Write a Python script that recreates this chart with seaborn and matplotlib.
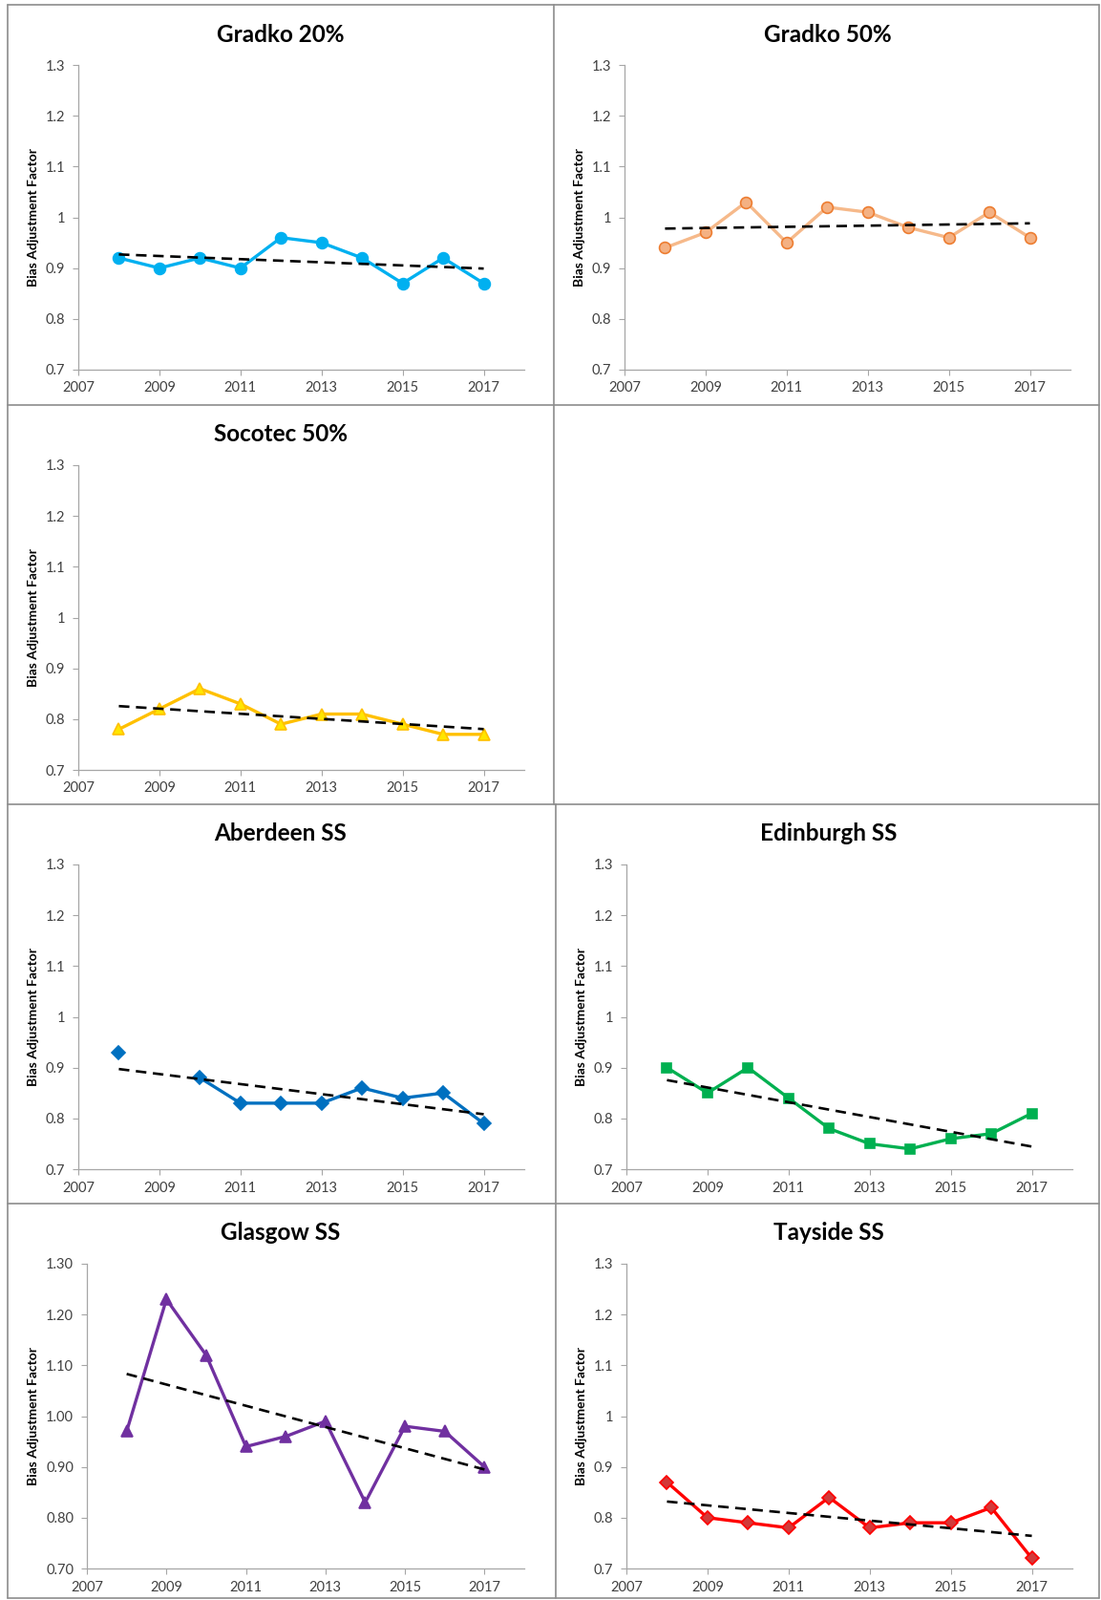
import numpy as np
import pandas as pd
import matplotlib
matplotlib.use("Agg")
import matplotlib.pyplot as plt
import seaborn as sns
from matplotlib.lines import Line2D
from matplotlib.ticker import FuncFormatter

# ---------------- data ----------------
years = [2008, 2009, 2010, 2011, 2012, 2013, 2014, 2015, 2016, 2017]
gradko20 = [0.92, 0.90, 0.92, 0.90, 0.96, 0.95, 0.92, 0.87, 0.92, 0.87]
gradko50 = [0.94, 0.97, 1.03, 0.95, 1.02, 1.01, 0.98, 0.96, 1.01, 0.96]
socotec50 = [0.78, 0.82, 0.86, 0.83, 0.79, 0.81, 0.81, 0.79, 0.77, 0.77]
aberdeen = [0.93, np.nan, 0.88, 0.83, 0.83, 0.83, 0.86, 0.84, 0.85, 0.79]
edinburgh = [0.90, 0.85, 0.90, 0.84, 0.78, 0.75, 0.74, 0.76, 0.77, 0.81]
glasgow = [0.97, 1.23, 1.12, 0.94, 0.96, 0.99, 0.83, 0.98, 0.97, 0.90]
tayside = [0.87, 0.80, 0.79, 0.78, 0.84, 0.78, 0.79, 0.79, 0.82, 0.72]

titles = ["Gradko 20%", "Gradko 50%", "Socotec 50%", "Aberdeen SS",
          "Edinburgh SS", "Glasgow SS", "Tayside SS"]
x_ticks = [2007, 2009, 2011, 2013, 2015, 2017]
y_ticks = [0.7, 0.8, 0.9, 1.0, 1.1, 1.2, 1.3]
y_label = "Bias Adjustment Factor"

# ---------------- style ----------------
sns.set_theme(style="white")
plt.rcParams["font.family"] = ["Lato", "DejaVu Sans"]

W, H = 1153, 1675
fig = plt.figure(figsize=(W / 100, H / 100), dpi=100)
fig.patch.set_facecolor("white")

def fbox(x, y, w, h):
    return [x / W, 1 - (y + h) / H, w / W, h / H]

row_y = [5, 424, 842, 1260]
col_x_top = [8, 580]
col_x_bot = [8, 582]

# style per series: (values, row, col, line color, marker, face, edge, size)
specs = [
    (gradko20, 0, 0, "#00B0F0", "o", "#00B0F0", "#00B0F0", 8.5),
    (gradko50, 0, 1, "#F6B98A", "o", "#F4B183", "#ED7D31", 8.5),
    (socotec50, 1, 0, "#FFC000", "^", "#FFE600", "#FFC000", 8.5),
    (aberdeen, 2, 0, "#0070C0", "D", "#0070C0", "#0070C0", 7.2),
    (edinburgh, 2, 1, "#00B050", "s", "#00B050", "#00B050", 7.0),
    (glasgow, 3, 0, "#7030A0", "^", "#7030A0", "#7030A0", 8.5),
    (tayside, 3, 1, "#FF0000", "D", "#D23A3A", "#FF0000", 7.2),
]

for i, (vals, r, c, lc, mk, mf, me, ms) in enumerate(specs):
    px0 = (col_x_top if r < 2 else col_x_bot)[c]
    py0 = row_y[r]
    pw = (580 - 8) if c == 0 else (1153 - px0)
    if titles[i] == "Glasgow SS":
        ax_left, ax_w = px0 + 83, 458
    else:
        ax_left, ax_w = px0 + 74, 467
    ax = fig.add_axes(fbox(ax_left, py0 + 63, ax_w, 319))

    df = pd.DataFrame({"year": years, "value": vals})
    # split into contiguous segments (gaps where data are missing)
    seg = df["value"].isna().cumsum()
    d = df.assign(seg=seg).dropna()
    for _, sub in d.groupby("seg"):
        sns.lineplot(data=sub, x="year", y="value", ax=ax, color=lc, lw=2.4,
                     marker=mk, markersize=ms, markerfacecolor=mf,
                     markeredgecolor=me, markeredgewidth=1.2, zorder=3)
    sns.regplot(data=df.dropna(), x="year", y="value", ax=ax, scatter=False,
                ci=None, truncate=True,
                line_kws=dict(color="black", lw=1.9, dashes=(4.2, 2.6), zorder=4))

    ax.set_xlim(2007, 2018)
    ax.set_ylim(0.7, 1.3)
    ax.set_xticks(x_ticks)
    ax.set_yticks(y_ticks)
    if titles[i] == "Glasgow SS":
        ax.yaxis.set_major_formatter(FuncFormatter(lambda v, p: f"{v:.2f}"))
    else:
        ax.yaxis.set_major_formatter(FuncFormatter(lambda v, p: f"{round(v, 2):g}"))
    ax.set_xlabel("")
    ax.set_ylabel("")
    for s in ["top", "right"]:
        ax.spines[s].set_visible(False)
    for s in ["left", "bottom"]:
        ax.spines[s].set_color("#A6A6A6")
        ax.spines[s].set_linewidth(0.9)
    ax.tick_params(direction="out", length=4, width=0.8, color="#A6A6A6",
                   labelsize=10.5, labelcolor="#404040", pad=3,
                   left=True, bottom=True)
    ax.tick_params(axis="x", pad=5)
    ax.tick_params(axis="y", pad=6)
    ax.set_facecolor("white")

    # title centred on the panel
    fig.text((px0 + pw / 2) / W, 1 - (py0 + 31) / H, titles[i],
             ha="center", va="center", fontsize=17.5, fontweight="bold",
             color="black")
    # y label
    fig.text((px0 + 27) / W, 1 - (py0 + 63 + 319 / 2) / H, y_label,
             ha="center", va="center", rotation=90, fontsize=10,
             fontweight="bold", color="black")

# ---------------- panel borders ----------------
bc = "#8C8C8C"
def hline(y, x0, x1):
    fig.add_artist(Line2D([x0 / W, x1 / W], [1 - y / H, 1 - y / H],
                          transform=fig.transFigure, color=bc, lw=1.2))
def vline(x, y0, y1):
    fig.add_artist(Line2D([x / W, x / W], [1 - y0 / H, 1 - y1 / H],
                          transform=fig.transFigure, color=bc, lw=1.2))

for y in [5, 424, 842, 1260, 1673]:
    hline(y, 8, 1151)
vline(8, 5, 1673)
vline(580, 5, 842)
vline(582, 842, 1673)
vline(1151, 5, 1673)

fig.savefig("out.png", dpi=100, facecolor="white")
